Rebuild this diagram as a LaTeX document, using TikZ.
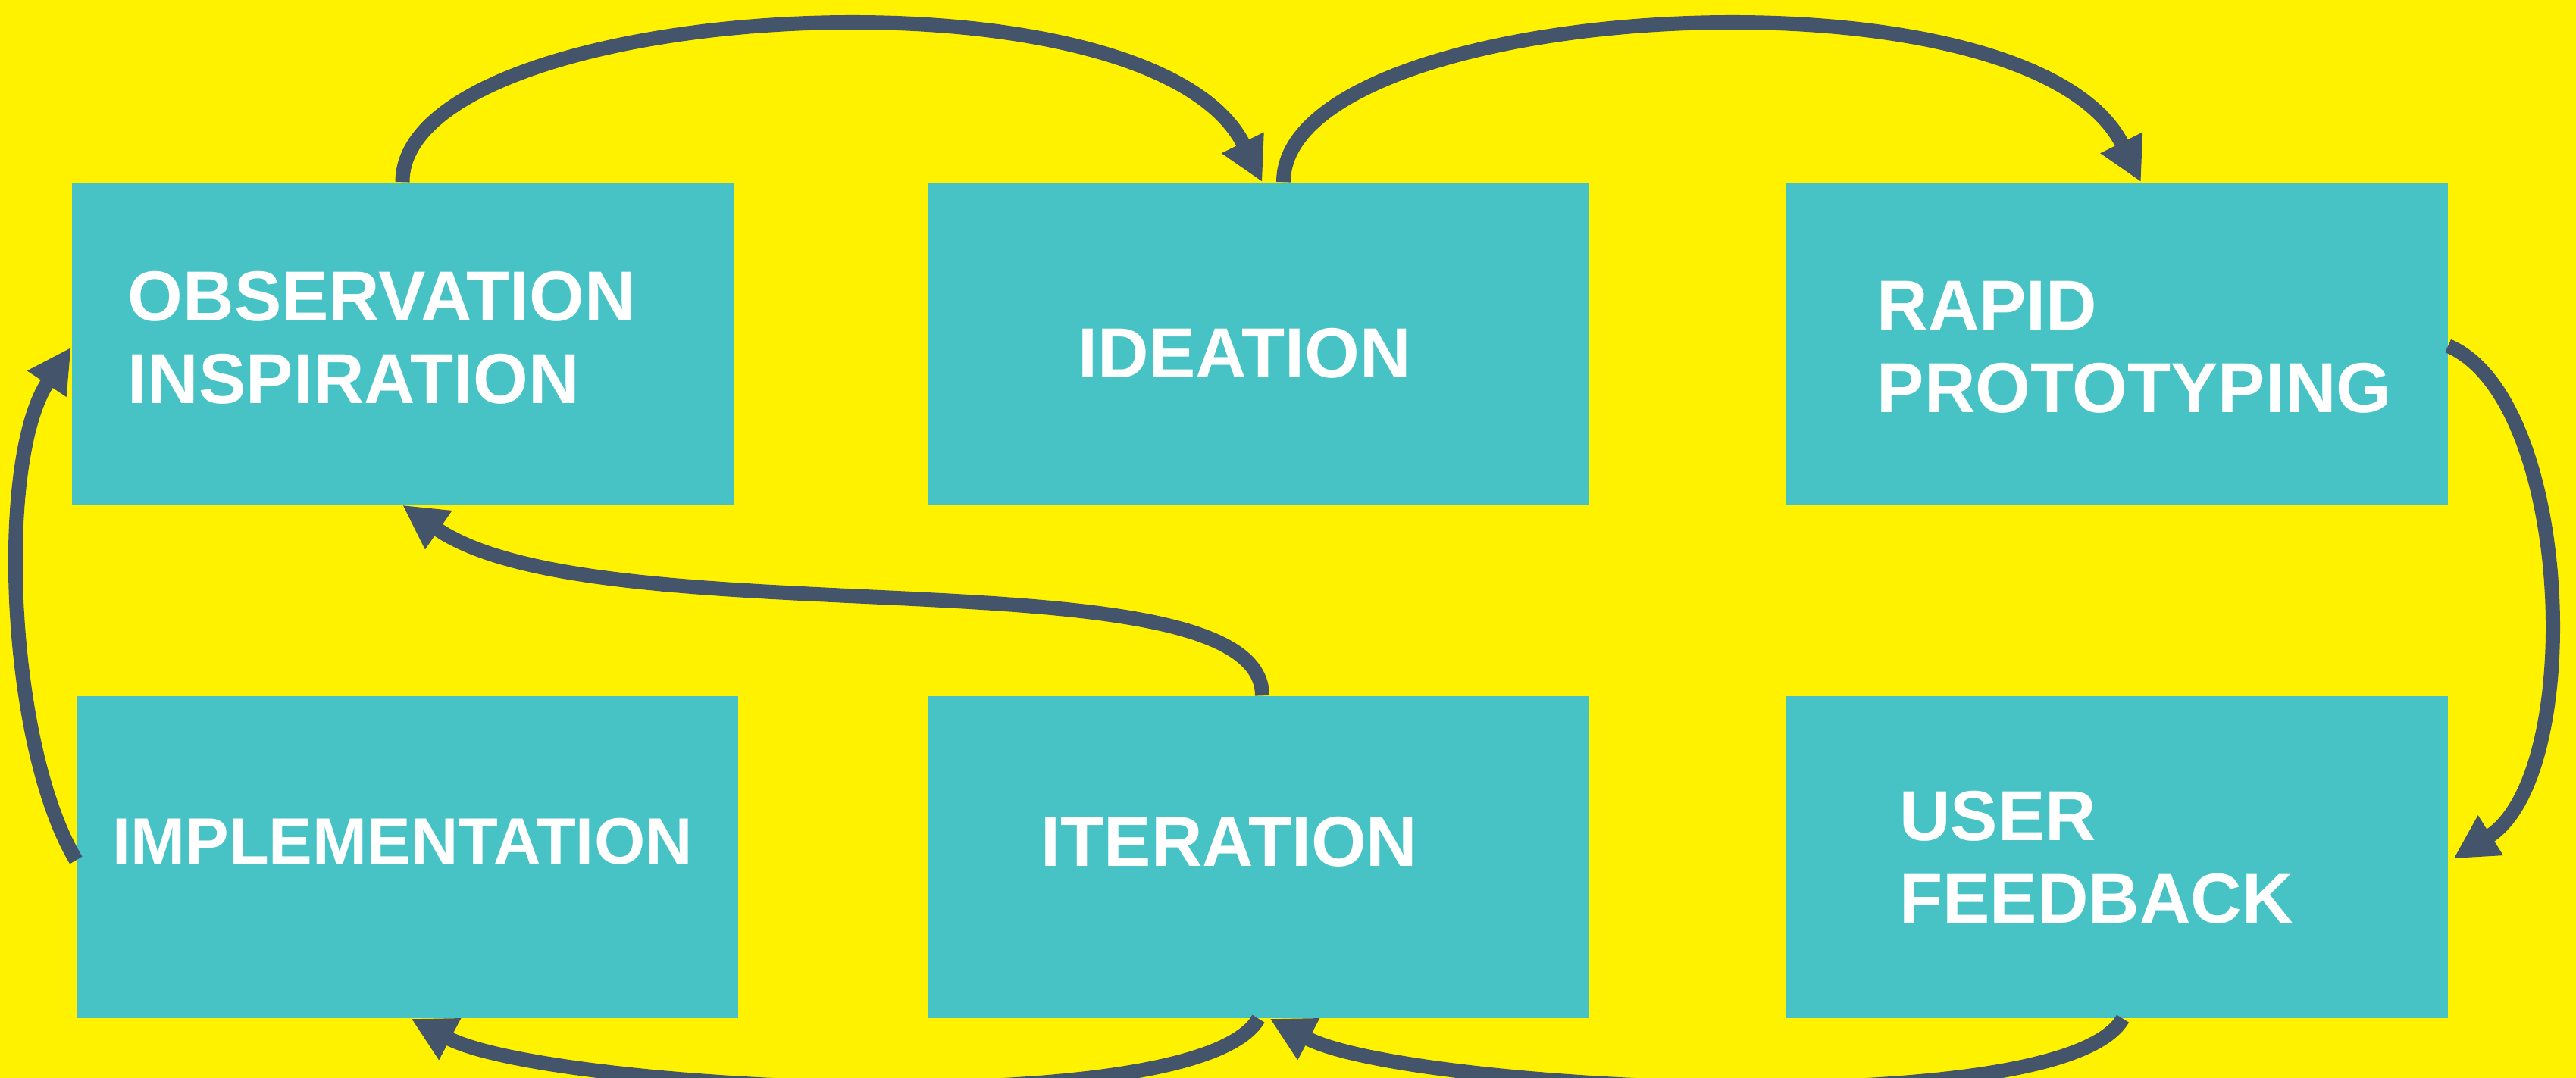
\documentclass[tikz,border=0pt]{standalone}
\usepackage{fontspec}
\setmainfont{Liberation Sans}
\usetikzlibrary{arrows.meta}
\definecolor{bgyellow}{HTML}{FFF200}
\definecolor{boxteal}{HTML}{47C3C6}
\definecolor{arrowslate}{HTML}{44546A}
\tikzset{
	stage/.style={fill=boxteal, draw=none, minimum width=8.73cm, minimum height=4.25cm, inner sep=0pt},
	stagetext/.style={text=white, font=\fontsize{26.6}{31}\selectfont\bfseries, align=left, inner sep=0pt},
	flow/.style={draw=arrowslate, line width=5.4pt, -{Triangle[length=16.5pt,width=16.5pt]}}
}

\begin{document}
\begin{tikzpicture}
			%%%%% START %%%%%
			
			\useasboundingbox (0, 0) rectangle (33.99, 14.23);
			\fill[bgyellow] (0, 0) rectangle (33.99, 14.23);
			\clip (0, 0) rectangle (33.99, 14.23);
			
			\node[stage] (obs) at (5.31, 9.695) {};
			\node[stage] (idea) at (16.605, 9.695) {};
			\node[stage] (rapid) at (27.93, 9.695) {};
			\node[stage] (impl) at (5.375, 2.915) {};
			\node[stage] (iter) at (16.605, 2.915) {};
			\node[stage] (user) at (27.93, 2.915) {};
			
			\node[stagetext] (obstext) at (5.04, 9.77) {OBSERVATION\\INSPIRATION};
			\node[stagetext] (ideatext) at (16.42, 9.57) {IDEATION};
			\node[stagetext] (rapidtext) at (28.16, 9.65) {RAPID\\PROTOTYPING};
			\node[stagetext, font=\fontsize{24.6}{29}\selectfont\bfseries] (impltext) at (5.31, 3.12) {IMPLEMENTATION};
			\node[stagetext] (itertext) at (16.22, 3.12) {ITERATION};
			\node[stagetext] (usertext) at (27.66, 2.91) {USER\\FEEDBACK};
			
			\draw[flow] (obs.north) .. controls +(0, 2.4) and +(-1.49, 3.0) .. ([xshift=0.05cm]idea.north);
			\draw[flow] ([xshift=0.33cm]idea.north) .. controls +(0, 2.4) and +(-1.49, 3.0) .. ([xshift=0.32cm]rapid.north);
			\draw[flow] ([yshift=-0.03cm]rapid.east) .. controls +(1.65, -0.7) and +(1.75, 1.1) .. ([xshift=0.07cm, yshift=-0.02cm]user.east);
			
			\draw[flow] ([xshift=0.08cm]user.south) .. controls +(-0.8, -1.4) and +(1.8, -0.95) .. ([xshift=0.15cm]iter.south);
			\draw[flow] (iter.south) .. controls +(-0.8, -1.4) and +(1.8, -0.95) .. ([xshift=0.05cm]impl.south);
			
			\draw[flow] ([yshift=-0.04cm]impl.west) .. controls +(-0.9, 1.5) and +(-1.0, -1.5) .. ([yshift=-0.05cm]obs.west);
			\draw[flow] ([xshift=0.05cm]iter.north) .. controls +(0, 1.96) and +(2.6, -1.8) .. (obs.south);
			
			%%%%% END %%%%%
\end{tikzpicture}
\end{document}
